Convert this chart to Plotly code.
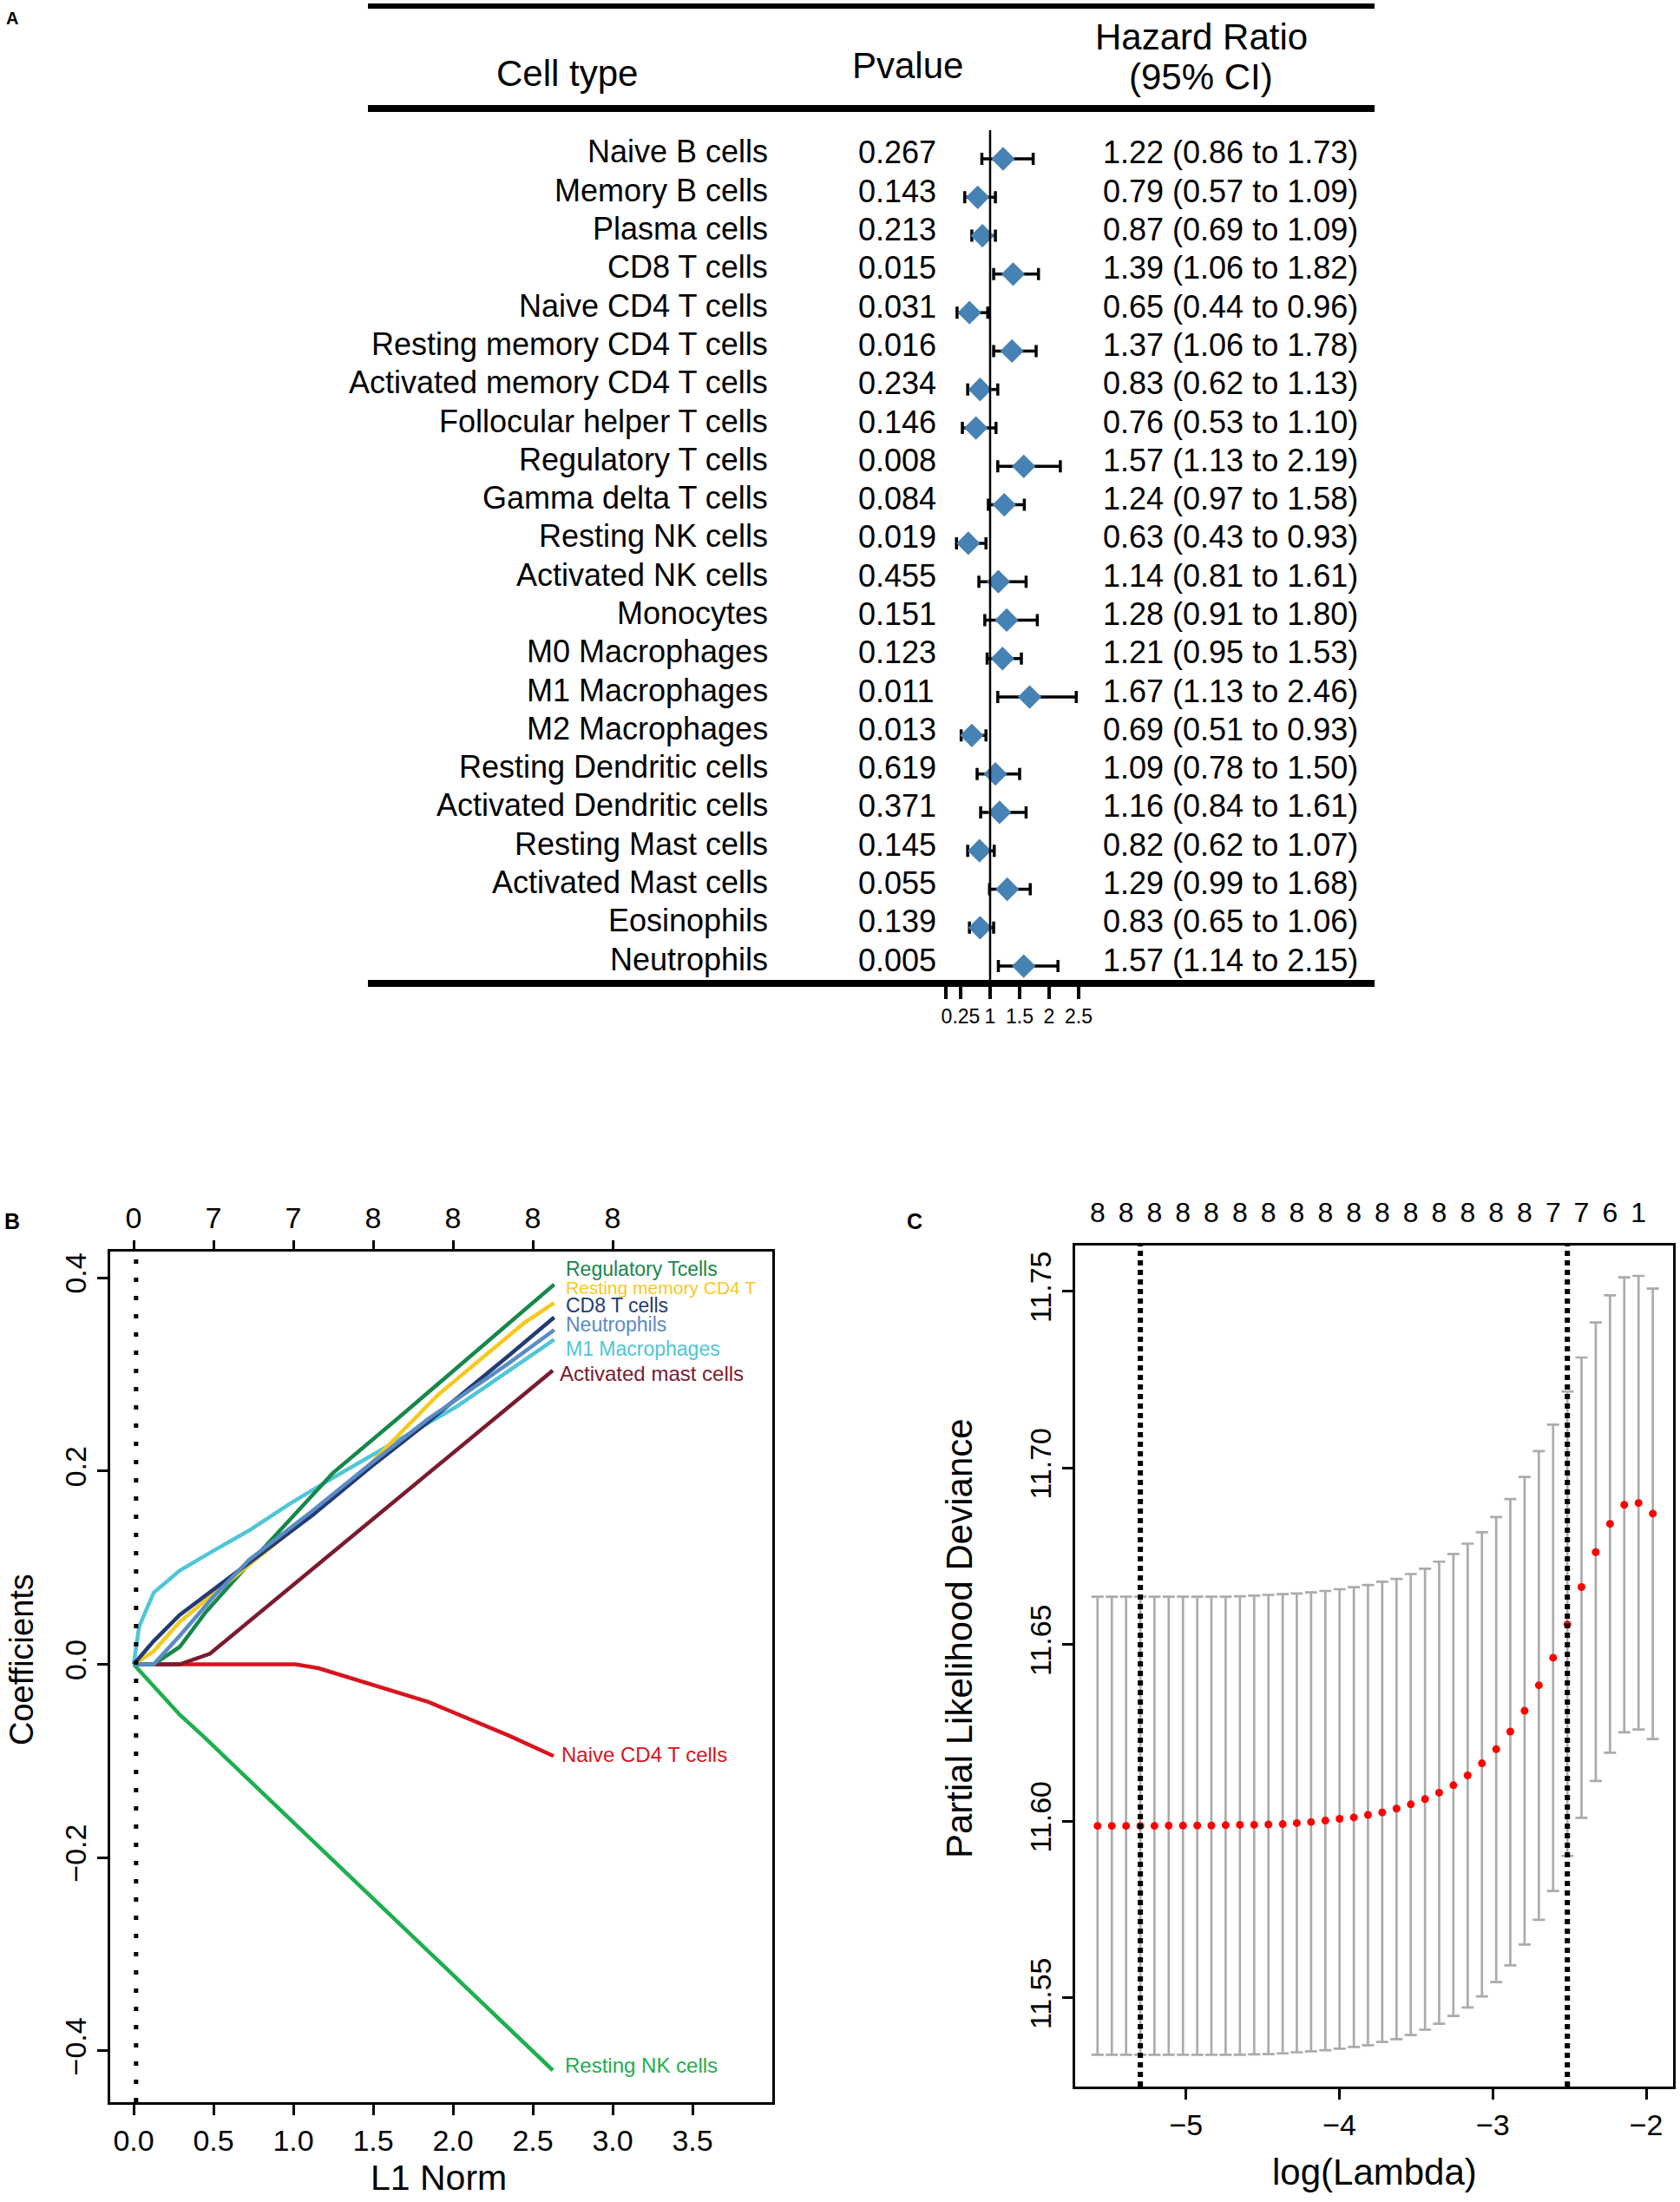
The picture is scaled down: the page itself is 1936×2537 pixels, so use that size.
import plotly.graph_objects as go

W, H = 1936, 2537

# ---------------- Panel A data (forest plot) ----------------
cell_types = ["Naive B cells", "Memory B cells", "Plasma cells", "CD8 T cells",
              "Naive CD4 T cells", "Resting memory CD4 T cells",
              "Activated memory CD4 T cells", "Follocular helper T cells",
              "Regulatory T cells", "Gamma delta T cells", "Resting NK cells",
              "Activated NK cells", "Monocytes", "M0 Macrophages", "M1 Macrophages",
              "M2 Macrophages", "Resting Dendritic cells", "Activated Dendritic cells",
              "Resting Mast cells", "Activated Mast cells", "Eosinophils", "Neutrophils"]
pvalues = ["0.267", "0.143", "0.213", "0.015", "0.031", "0.016", "0.234", "0.146",
           "0.008", "0.084", "0.019", "0.455", "0.151", "0.123", "0.011", "0.013",
           "0.619", "0.371", "0.145", "0.055", "0.139", "0.005"]
hr = [1.22, 0.79, 0.87, 1.39, 0.65, 1.37, 0.83, 0.76, 1.57, 1.24, 0.63,
      1.14, 1.28, 1.21, 1.67, 0.69, 1.09, 1.16, 0.82, 1.29, 0.83, 1.57]
hr_low = [0.86, 0.57, 0.69, 1.06, 0.44, 1.06, 0.62, 0.53, 1.13, 0.97, 0.43,
          0.81, 0.91, 0.95, 1.13, 0.51, 0.78, 0.84, 0.62, 0.99, 0.65, 1.14]
hr_high = [1.73, 1.09, 1.09, 1.82, 0.96, 1.78, 1.13, 1.10, 2.19, 1.58, 0.93,
           1.61, 1.80, 1.53, 2.46, 0.93, 1.50, 1.61, 1.07, 1.68, 1.06, 2.15]
hr_tickvals = [0.25, 0.5, 1, 1.5, 2, 2.5]
hr_ticktext = ["", "0.25", "1", "1.5", "2", "2.5"]
hr_ref = 1.0

# ---------------- Panel B data (coefficient paths) ----------------
treg_x = [0, 0.125, 0.288, 0.451, 0.668, 0.977, 1.248, 1.665, 2.027, 2.634]
treg_y = [0, 0, 0.018, 0.054, 0.094, 0.150, 0.198, 0.256, 0.307, 0.393]
rmem_x = [0, 0.125, 0.288, 0.505, 0.723, 1.121, 1.484, 1.901, 2.444, 2.634]
rmem_y = [0, 0.0135, 0.044, 0.074, 0.103, 0.156, 0.2075, 0.278, 0.353, 0.374]
cd8_x = [0, 0.125, 0.288, 0.505, 0.723, 1.121, 1.484, 1.846, 2.353, 2.634]
cd8_y = [0, 0.024, 0.051, 0.078, 0.105, 0.1545, 0.204, 0.251, 0.320, 0.359]
neut_x = [0, 0.125, 0.288, 0.505, 0.723, 1.121, 1.484, 1.846, 2.353, 2.634]
neut_y = [0, 0, 0.0295, 0.071, 0.108, 0.159, 0.2075, 0.254, 0.312, 0.346]
m1_x = [0, 0.034, 0.125, 0.288, 0.505, 0.723, 0.977, 1.248, 1.737, 2.027, 2.634]
m1_y = [0, 0.039, 0.074, 0.097, 0.118, 0.1385, 0.166, 0.193, 0.2395, 0.267, 0.336]
mast_x = [0, 0.125, 0.288, 0.478, 2.625]
mast_y = [0, 0, 0, 0.011, 0.304]
ncd4_x = [0, 0.125, 1.013, 1.158, 1.846, 2.353, 2.630]
ncd4_y = [0, 0, 0, -0.004, -0.039, -0.074, -0.095]
nk_x = [0, 0.288, 0.433, 2.625]
nk_y = [0, -0.052, -0.074, -0.420]
b_vline = 0.015
b_top_ticks = [0, 0.5, 1.0, 1.5, 2.0, 2.5, 3.0]
b_top_labels = ["0", "7", "7", "8", "8", "8", "8"]
b_x_ticks = [0, 0.5, 1.0, 1.5, 2.0, 2.5, 3.0, 3.5]
b_y_ticks = [-0.4, -0.2, 0.0, 0.2, 0.4]

# ---------------- Panel C data (CV curve) ----------------
log_lambda = [-5.577, -5.484, -5.391, -5.298, -5.206, -5.113, -5.020, -4.927, -4.835, -4.742,
              -4.649, -4.556, -4.463, -4.370, -4.278, -4.185, -4.092, -3.999, -3.906, -3.814,
              -3.721, -3.628, -3.535, -3.442, -3.350, -3.257, -3.164, -3.071, -2.978, -2.886,
              -2.793, -2.700, -2.607, -2.514, -2.422, -2.329, -2.236, -2.143, -2.050, -1.957]
cvm = [11.5987, 11.5987, 11.5987, 11.5987, 11.5987, 11.5988, 11.5988, 11.5988, 11.5988, 11.5989,
       11.5990, 11.5990, 11.5991, 11.5992, 11.5995, 11.5998, 11.6002, 11.6007, 11.6011, 11.6018,
       11.6025, 11.6036, 11.6048, 11.6063, 11.6081, 11.6102, 11.6130, 11.6164, 11.6204, 11.6254,
       11.6313, 11.6385, 11.6463, 11.6557, 11.6663, 11.6762, 11.6842, 11.6896, 11.6901, 11.6871]
cvup = [11.6636, 11.6636, 11.6636, 11.6636, 11.6636, 11.6636, 11.6636, 11.6636, 11.6636, 11.6636,
        11.6637, 11.6639, 11.6641, 11.6643, 11.6645, 11.6648, 11.6652, 11.6657, 11.6663, 11.6669,
        11.6678, 11.6686, 11.6700, 11.6715, 11.6735, 11.6757, 11.6786, 11.6818, 11.6861, 11.6912,
        11.6975, 11.7048, 11.7123, 11.7217, 11.7313, 11.7412, 11.7489, 11.7540, 11.7544, 11.7508]
cvlo = [11.5339, 11.5339, 11.5339, 11.5339, 11.5339, 11.5339, 11.5339, 11.5339, 11.5339, 11.5339,
        11.5339, 11.5340, 11.5341, 11.5343, 11.5346, 11.5349, 11.5352, 11.5356, 11.5361, 11.5366,
        11.5375, 11.5383, 11.5395, 11.5410, 11.5427, 11.5449, 11.5473, 11.5504, 11.5545, 11.5592,
        11.5651, 11.5721, 11.5803, 11.5902, 11.6010, 11.6114, 11.6194, 11.6252, 11.6260, 11.6233]
nzero_labels = ["8", "8", "8", "8", "8", "8", "8", "8", "8", "8",
                "8", "8", "8", "8", "8", "8", "7", "7", "6", "1"]
lambda_min = -5.298
lambda_1se = -2.514
c_x_ticks = [-5, -4, -3, -2]
c_y_ticks = [11.55, 11.60, 11.65, 11.70, 11.75]

FONT = "Liberation Sans, Arial, sans-serif"


def px(x):
    return x / W


def py(y):
    return 1 - y / H


fig = go.Figure()

# ---------- Panel A ----------
rows = list(range(len(cell_types)))
fig.add_trace(go.Scatter(
    x=hr, y=rows, mode="markers", xaxis="x", yaxis="y",
    marker=dict(symbol="diamond", size=21, color="#4682B4", line=dict(width=0)),
    error_x=dict(type="data", symmetric=False,
                 array=[h - m for h, m in zip(hr_high, hr)],
                 arrayminus=[m - l for m, l in zip(hr, hr_low)],
                 color="black", thickness=3.5, width=7),
    hoverinfo="skip"))

annotations = []
for i, name in enumerate(cell_types):
    annotations.append(dict(x=px(887), xref="paper", y=i, yref="y", text=name,
                            xanchor="right", yanchor="middle", showarrow=False,
                            yshift=8, font=dict(size=36, color="black", family=FONT)))
    annotations.append(dict(x=px(987), xref="paper", y=i, yref="y", text=pvalues[i],
                            xanchor="left", yanchor="middle", showarrow=False,
                            yshift=7, font=dict(size=36, color="black", family=FONT)))
    annotations.append(dict(x=px(1418), xref="paper", y=i, yref="y",
                            text="%.2f (%.2f to %.2f)" % (hr[i], hr_low[i], hr_high[i]),
                            xanchor="center", yanchor="middle", showarrow=False,
                            yshift=7, font=dict(size=36, color="black", family=FONT)))

header = [("Cell type", 653, 84), ("Pvalue", 1046, 76),
          ("Hazard Ratio", 1384, 42), ("(95% CI)", 1384, 89)]
for t, x, y in header:
    annotations.append(dict(x=px(x), y=py(y), xref="paper", yref="paper", text=t,
                            showarrow=False, xanchor="center", yanchor="middle",
                            font=dict(size=42, color="black", family=FONT)))

shapes = []
for y, wdt in [(7, 6), (125, 8), (1133, 8)]:
    shapes.append(dict(type="line", xref="paper", yref="paper", x0=px(424), x1=px(1584),
                       y0=py(y), y1=py(y), line=dict(color="black", width=wdt)))
shapes.append(dict(type="line", xref="x", yref="paper", x0=hr_ref, x1=hr_ref,
                   y0=py(150), y1=py(1133), line=dict(color="black", width=2.5)))

# ---------- Panel B ----------
paths = [
    ("Resting NK cells", nk_x, nk_y, "#1DAF4E", 2.69, -0.415, 24),
    ("Naive CD4 T cells", ncd4_x, ncd4_y, "#D7141E", 2.668, -0.093, 24),
    ("Activated mast cells", mast_x, mast_y, "#7B1A2E", 2.658, 0.301, 24),
    ("M1 Macrophages", m1_x, m1_y, "#4EC6D8", 2.696, 0.326, 23),
    ("Regulatory Tcells", treg_x, treg_y, "#17874A", 2.696, 0.409, 23),
    ("Resting memory CD4 T", rmem_x, rmem_y, "#F7C81E", 2.696, 0.390, 21),
    ("CD8 T cells", cd8_x, cd8_y, "#233A72", 2.696, 0.371, 23),
    ("Neutrophils", neut_x, neut_y, "#5A8BC4", 2.696, 0.352, 23),
]
for name, xs, ys, col, lx, ly, fs in paths:
    fig.add_trace(go.Scatter(x=xs, y=ys, mode="lines", xaxis="x2", yaxis="y2",
                             line=dict(color=col, width=4.5), hoverinfo="skip"))
    annotations.append(dict(x=lx, y=ly, xref="x2", yref="y2", text=name, showarrow=False,
                            xanchor="left", yanchor="middle",
                            font=dict(size=fs, color=col, family=FONT)))
fig.add_trace(go.Scatter(x=[0], y=[0], xaxis="x3", yaxis="y2", mode="markers",
                         marker=dict(opacity=0), hoverinfo="skip"))
shapes.append(dict(type="line", xref="x2", yref="y2 domain", x0=b_vline, x1=b_vline,
                   y0=0, y1=1, line=dict(color="black", width=5, dash="5px,16px")))

# ---------- Panel C ----------
fig.add_trace(go.Scatter(
    x=log_lambda, y=cvm, mode="markers", xaxis="x4", yaxis="y4",
    marker=dict(color="#FF0000", size=9),
    error_y=dict(type="data", symmetric=False,
                 array=[u - m for u, m in zip(cvup, cvm)],
                 arrayminus=[m - l for m, l in zip(cvm, cvlo)],
                 color="#ABABAB", thickness=2.7, width=7),
    hoverinfo="skip"))
fig.add_trace(go.Scatter(x=[log_lambda[0]], y=[cvm[0]], xaxis="x5", yaxis="y4",
                         mode="markers", marker=dict(opacity=0), hoverinfo="skip"))
for v in (lambda_min, lambda_1se):
    shapes.append(dict(type="line", xref="x4", yref="y4 domain", x0=v, x1=v, y0=0, y1=1,
                       line=dict(color="black", width=6, dash="6px,5px")))

# Axis titles and panel letters
titles = [("Coefficients", 25, 1912, -90, 38), ("L1 Norm", 505, 2509, 0, 41),
          ("Partial Likelihood Deviance", 1105, 1888, -90, 42),
          ("log(Lambda)", 1584, 2502, 0, 42)]
for t, x, y, ang, s in titles:
    annotations.append(dict(x=px(x), y=py(y), xref="paper", yref="paper", text=t,
                            textangle=ang, showarrow=False, xanchor="center",
                            yanchor="middle", font=dict(size=s, color="black", family=FONT)))
for t, x, y, s in [("A", 14, 21, 20), ("B", 14, 1407, 25), ("C", 1054, 1407, 25)]:
    annotations.append(dict(x=px(x), y=py(y), xref="paper", yref="paper",
                            text="<b>%s</b>" % t, showarrow=False, xanchor="center",
                            yanchor="middle", font=dict(size=s, color="black", family=FONT)))

tickf = dict(size=34, color="black", family=FONT)
box = dict(showline=True, linecolor="black", linewidth=2.5, mirror=True,
           showgrid=False, zeroline=False, ticks="outside", ticklen=12,
           tickwidth=2.5, tickcolor="black", tickfont=tickf)

fig.update_layout(
    width=W, height=H, margin=dict(l=0, r=0, t=0, b=0),
    paper_bgcolor="white", plot_bgcolor="white", showlegend=False,
    font=dict(family=FONT, color="black"),
    annotations=annotations, shapes=shapes,
    xaxis=dict(domain=[px(424), px(1581)], range=[-9.544, 7.471], anchor="y",
               tickvals=hr_tickvals, ticktext=hr_ticktext, ticks="outside",
               ticklen=17, tickwidth=4, tickcolor="black", showline=False,
               showgrid=False, zeroline=False,
               tickfont=dict(size=23, color="black", family=FONT)),
    yaxis=dict(domain=[py(1133), py(7)], range=[21.45, -3.974], visible=False),
    xaxis2=dict(domain=[px(127), px(890)], range=[-0.147, 4.0], anchor="y2",
                tickvals=b_x_ticks, ticktext=["%.1f" % v for v in b_x_ticks], **box),
    yaxis2=dict(domain=[py(2422), py(1442)], range=[-0.453, 0.427], anchor="x2",
                tickvals=b_y_ticks,
                ticktext=[("%.1f" % v).replace("-", "\u2212") for v in b_y_ticks],
                tickangle=-90, **box),
    xaxis3=dict(overlaying="x2", anchor="y2", side="top", range=[-0.147, 4.0],
                tickvals=b_top_ticks, ticktext=b_top_labels, ticks="outside",
                ticklen=12, tickwidth=2.5, tickcolor="black", showline=False,
                showgrid=False, zeroline=False, tickfont=tickf),
    xaxis4=dict(domain=[px(1239), px(1928)], range=[-5.723, -1.825], anchor="y4",
                tickvals=c_x_ticks, **box),
    yaxis4=dict(domain=[py(2404), py(1435)], range=[11.5249, 11.763], anchor="x4",
                tickvals=c_y_ticks, tickformat=".2f", tickangle=-90, **box),
    xaxis5=dict(overlaying="x4", anchor="y4", side="top", range=[-5.723, -1.825],
                tickvals=log_lambda[0::2], ticktext=nzero_labels, ticks="outside",
                ticklen=13, tickcolor="rgba(0,0,0,0)", showline=False,
                showgrid=False, zeroline=False,
                tickfont=dict(size=32, color="black", family=FONT)),
)

fig.write_html("out.html", config={"displayModeBar": False},
               post_script="document.body.style.margin='0';")
